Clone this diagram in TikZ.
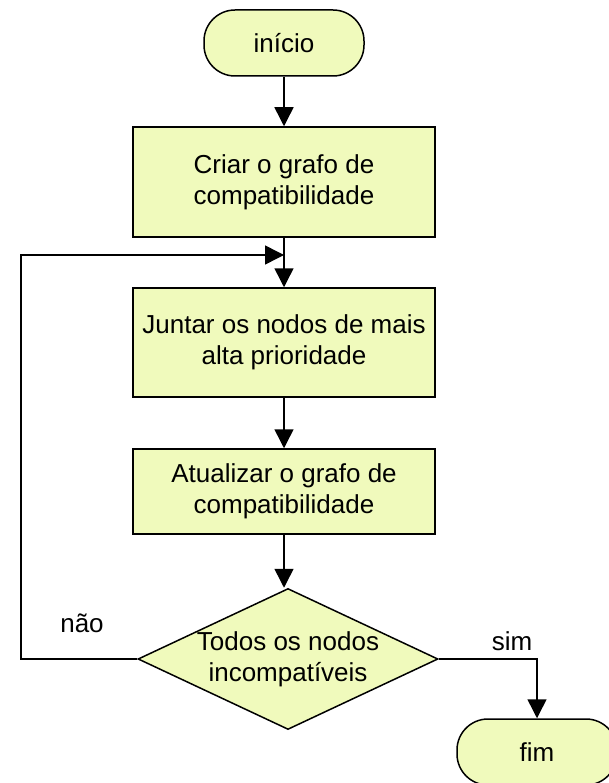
\documentclass[tikz,border=0pt]{standalone}
\usepackage{fontspec}
\setmainfont{Liberation Sans}
\usetikzlibrary{arrows.meta,shapes.geometric}
\definecolor{amarelo}{RGB}{240,250,188}
\begin{document}
\begin{tikzpicture}[x=1pt,y=-1pt,
    font=\fontsize{26}{31}\selectfont,
    caixa/.style={draw,line width=1.5pt,fill=amarelo,align=center,minimum width=302pt},
    terminal/.style={draw,line width=1.5pt,fill=amarelo,rounded corners=31pt,minimum width=160pt,minimum height=66pt},
    decisao/.style={draw,diamond,aspect=2.1,line width=1.5pt,fill=amarelo,align=center,inner sep=-5pt,minimum width=300pt,minimum height=141pt},
    fluxo/.style={line width=1.5pt,-{Triangle[length=19pt,width=19pt]}}]
        \useasboundingbox (0,0) rectangle (609,783);

        %% start and end
        \node[terminal] (inicio) at (284,43) {início};
        \node[terminal] (fim) at (537,752) {fim};

        %% steps
        \node[caixa,minimum height=110pt] (criar) at (284,182) {Criar o grafo de\\compatibilidade};
        \node[caixa,minimum height=109pt] (juntar) at (284,342.5) {Juntar os nodos de mais\\alta prioridade};
        \node[caixa,minimum height=85pt] (atualizar) at (284,491.5) {Atualizar o grafo de\\compatibilidade};

        %% test
        \node[decisao] (teste) at (288,659) {Todos os nodos\\incompatíveis};
        \node (nao) at (82,623) {não};
        \node (sim) at (512,641) {sim};

        \coordinate (volta) at (21,255);
        \coordinate (juncao) at (284,255);

        %% arrows
        \draw[fluxo] (inicio) -- (criar);
        \draw[fluxo] (criar) -- (juntar);
        \draw[fluxo] (juntar) -- (atualizar);
        \draw[fluxo] (atualizar) -- (atualizar.south |- teste.north);
        \draw[fluxo] (teste.west) -| (volta) -- (juncao);
        \draw[fluxo] (teste.east) -| (fim.north);
      \end{tikzpicture}
\end{document}
